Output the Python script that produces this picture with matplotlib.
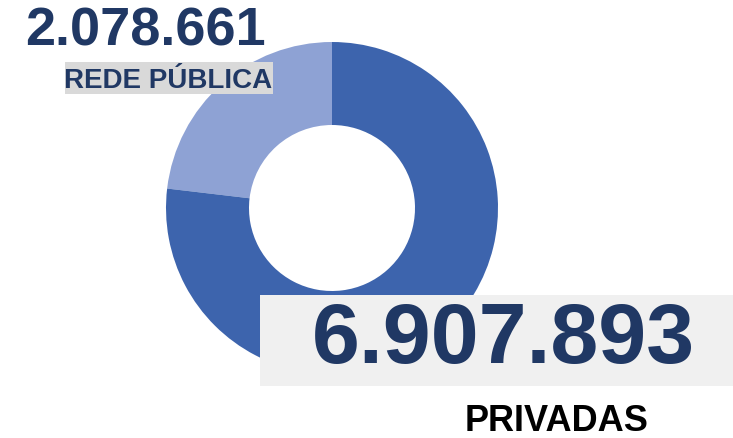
import matplotlib
matplotlib.use("Agg")
from matplotlib import pyplot as plt
from matplotlib.patches import Rectangle

# data
labels = ['REDE PÚBLICA', 'PRIVADAS']
values = [2078661, 6907893]
value_text = ['2.078.661', '6.907.893']
colors = ['#8EA2D4', '#3D64AD']

W, H = 733, 439
navy = '#203864'
font = 'Liberation Sans'


def fx(px):
    return px / W


def fy(py_top):
    # pixel y measured from the top -> figure fraction
    return 1 - py_top / H


fig = plt.figure(figsize=(W / 100, H / 100), dpi=100)

# donut, centre (332, 209) px, outer radius 166 px
cx, cy, r = 332, 209, 166
ax = fig.add_axes([fx(cx - r), fy(cy + r), fx(2 * r), 2 * r / H])
ax.pie(values, colors=colors, startangle=90, counterclock=True,
       radius=1.0, wedgeprops=dict(width=0.5, edgecolor='none'))
ax.set_xlim(-1, 1)
ax.set_ylim(-1, 1)
ax.set_aspect('equal')
ax.axis('off')

# boxes behind labels
fig.patches.append(Rectangle((fx(65), fy(95)), fx(273 - 65), (95 - 63) / H,
                             transform=fig.transFigure, facecolor='#D9D9D9',
                             edgecolor='none', zorder=2))
fig.patches.append(Rectangle((fx(260), fy(387)), fx(W - 260), (387 - 296) / H,
                             transform=fig.transFigure, facecolor='#F0F0F0',
                             edgecolor='none', zorder=2))

# public label
fig.text(fx(145), fy(45.5), value_text[0], ha='center', va='baseline',
         fontsize=39, fontweight='bold', color=navy, family=font, zorder=3)
fig.text(fx(168), fy(88), labels[0], ha='center', va='baseline',
         fontsize=20, fontweight='bold', color=navy, family=font, zorder=3)

# private label
fig.text(fx(503), fy(363), value_text[1], ha='center', va='baseline',
         fontsize=62, fontweight='bold', color=navy, family=font, zorder=3)
fig.text(fx(557), fy(431), labels[1], ha='center', va='baseline',
         fontsize=26, fontweight='bold', color='black', family=font, zorder=3)

fig.savefig('out.png', dpi=100)
